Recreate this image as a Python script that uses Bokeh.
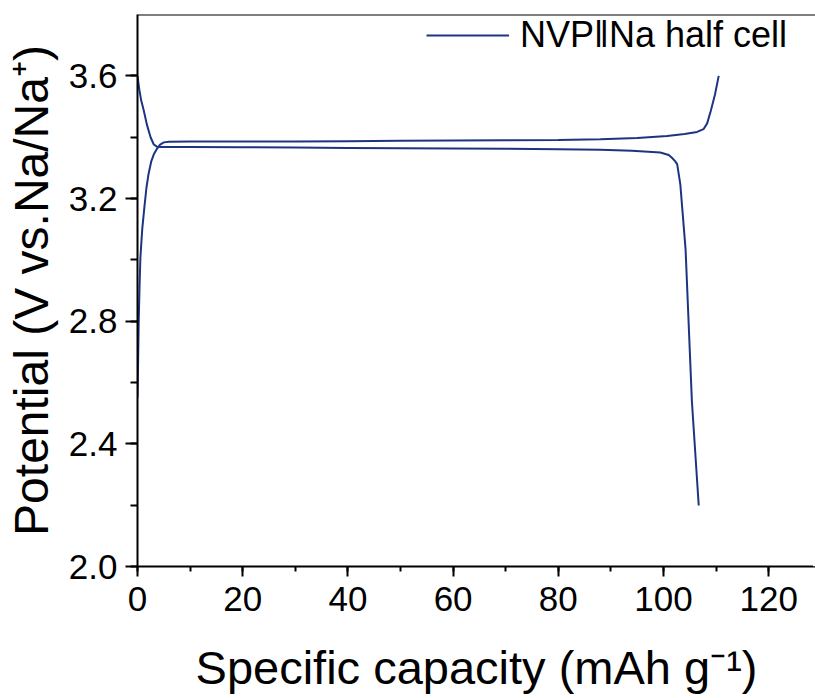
from bokeh.plotting import figure
from bokeh.models import Range1d, SingleIntervalTicker, NumeralTickFormatter, Span, Legend, LegendItem
from bokeh.embed import file_html
from bokeh.resources import INLINE

# Charge curve (upper branch)
charge_cap = [0, 0.1, 0.23, 0.4, 0.55, 0.9, 1.3, 1.7, 2.1, 2.6, 3.1, 3.7, 4.3, 5.0, 6, 10, 20, 30, 40, 50,
              60, 70, 80, 88, 95, 100.7, 104, 106.4, 107.6, 108.3, 109, 109.8, 110.5]
charge_v = [2.55, 2.65, 2.80, 2.92, 3.007, 3.10, 3.17, 3.235, 3.28, 3.32, 3.344, 3.362, 3.376, 3.383, 3.385,
            3.386, 3.386, 3.386, 3.387, 3.388, 3.389, 3.39, 3.391, 3.393, 3.397, 3.404, 3.41, 3.417, 3.426,
            3.445, 3.486, 3.54, 3.60]

# Discharge curve (lower branch)
dis_cap = [0, 0.3, 0.7, 1.2, 1.8, 2.5, 3.1, 3.7, 4.5, 6, 10, 20, 30, 40, 50, 60, 70, 80, 88, 94, 99.4,
           101, 101.6, 102.2, 102.6, 103.2, 104.2, 105.4, 106.7]
dis_v = [3.6, 3.56, 3.52, 3.486, 3.44, 3.399, 3.376, 3.369, 3.368, 3.368, 3.368, 3.367, 3.366, 3.365, 3.364,
         3.363, 3.362, 3.361, 3.359, 3.356, 3.35, 3.342, 3.333, 3.322, 3.312, 3.246, 3.034, 2.539, 2.199]

legend_label = "NVP\u2016Na half cell"
x_label = "Specific capacity (mAh g\u207b\u00b9)"
y_label = "Potential (V vs.Na/Na\u207a)"
x_end = 128.9
y_top = 3.8

FONT = "Liberation Sans"
COLOR = "#1c3582"

p = figure(width=815, height=696, output_backend="svg", toolbar_location=None,
           x_range=Range1d(0, x_end), y_range=Range1d(2.0, y_top),
           min_border_left=137, min_border_right=0, min_border_top=14, min_border_bottom=130)
p.grid.visible = False
p.outline_line_color = None
p.background_fill_color = "white"
p.border_fill_color = "white"

r1 = p.line(charge_cap, charge_v, line_color=COLOR, line_width=2)
r2 = p.line(dis_cap, dis_v, line_color=COLOR, line_width=2)

for ax in (p.xaxis[0], p.yaxis[0]):
    ax.axis_line_width = 2
    ax.major_tick_line_width = 2
    ax.minor_tick_line_width = 2
    ax.major_tick_in = 0
    ax.minor_tick_in = 0
    ax.major_label_text_font = FONT
    ax.major_label_text_font_size = "35px"
    ax.major_label_text_color = "black"
    ax.axis_label_text_font = FONT
    ax.axis_label_text_font_style = "normal"
    ax.axis_label_text_color = "black"

p.xaxis[0].axis_label_text_font_size = "47px"
p.yaxis[0].axis_label_text_font_size = "48px"
p.xaxis[0].ticker = SingleIntervalTicker(interval=20, num_minor_ticks=2)
p.yaxis[0].ticker = SingleIntervalTicker(interval=0.4, num_minor_ticks=2)
p.yaxis[0].formatter = NumeralTickFormatter(format="0.0")
p.xaxis[0].major_tick_out = 10
p.xaxis[0].minor_tick_out = 5
p.yaxis[0].major_tick_out = 12
p.yaxis[0].minor_tick_out = 7
p.xaxis[0].major_label_standoff = 10
p.yaxis[0].major_label_standoff = 8
p.xaxis[0].axis_label = x_label
p.yaxis[0].axis_label = y_label
p.xaxis[0].axis_label_standoff = 27
p.yaxis[0].axis_label_standoff = 8

# hide the stray frame edge on the right (the reference is cropped there)
edge_cover = Span(location=x_end, dimension="height", line_color="white", line_width=5, level="overlay")
p.add_layout(edge_cover)
top_line = Span(location=y_top, dimension="width", line_color="black", line_width=2, level="overlay")
p.add_layout(top_line)

legend = Legend(items=[LegendItem(label=legend_label, renderers=[r1])],
                location=(289, 510), padding=0, margin=0, border_line_color=None,
                background_fill_alpha=0, glyph_width=83, label_standoff=11,
                label_text_font=FONT, label_text_font_size="36px", label_text_color="black")
p.add_layout(legend, "center")

open("out.html", "w").write(file_html(p, INLINE))
